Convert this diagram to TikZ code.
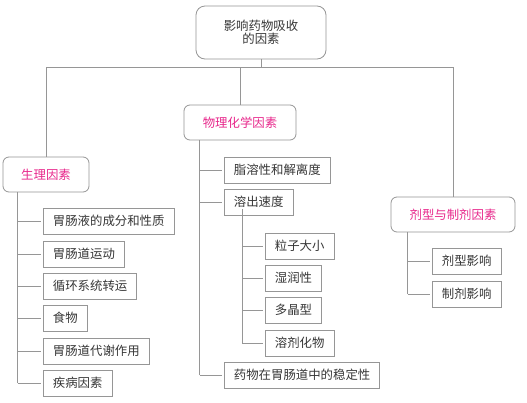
\documentclass[tikz,border=0pt]{standalone}
\usepackage{fontspec}
\setmainfont{Noto Sans CJK SC}
\definecolor{linegray}{RGB}{150,150,150}
\definecolor{txtgray}{RGB}{55,55,55}
\definecolor{pinkt}{RGB}{232,40,140}
\begin{document}
\begin{tikzpicture}[x=1pt,y=-1pt,
  every node/.style={font=\fontsize{12.4}{14}\selectfont, inner ysep=0pt},
  leaf/.style={draw=linegray, line width=0.8pt, text=txtgray, inner xsep=9.5pt, minimum height=26pt, anchor=west},
  cat/.style={draw=linegray, line width=0.8pt, rounded corners=6pt, text=pinkt, minimum height=35pt},
  rootbox/.style={draw=linegray, line width=0.8pt, rounded corners=9pt, text=txtgray, minimum width=130pt, minimum height=53pt, align=center},
  conn/.style={draw=linegray, line width=0.8pt}]
\useasboundingbox (0,0) rectangle (527,402);
\fill[white] (0,0) rectangle (527,402);
% root and categories
\node[rootbox] (root) at (261,32.5) {影响药物吸收\\[-1pt]的因素};
\node[cat, minimum width=112pt] (phys) at (240,122.5) {物理化学因素};
\node[cat, minimum width=86pt] (sheng) at (46,174.5) {生理因素};
\node[cat, minimum width=124pt] (jix) at (453,214.5) {剂型与制剂因素};
\coordinate (bus) at (0,67);
\draw[conn] (root.south) -- (root.south |- bus);
\draw[conn] (sheng.north) |- (jix.north |- bus) -- (jix.north);
\draw[conn] (phys.north) -- (phys.north |- bus);
% leaves
\node[leaf] (s1) at (43,221) {胃肠液的成分和性质};
\node[leaf] (s2) at (43,254) {胃肠道运动};
\node[leaf] (s3) at (43,286) {循环系统转运};
\node[leaf] (s4) at (43,318) {食物};
\node[leaf] (s5) at (43,351) {胃肠道代谢作用};
\node[leaf] (s6) at (43,383) {疾病因素};
\node[leaf] (p1) at (224,170) {脂溶性和解离度};
\node[leaf] (p2) at (224,202) {溶出速度};
\node[leaf] (p3) at (224,375) {药物在胃肠道中的稳定性};
\node[leaf] (g1) at (265,246) {粒子大小};
\node[leaf] (g2) at (265,278) {湿润性};
\node[leaf] (g3) at (265,310) {多晶型};
\node[leaf] (g4) at (265,343) {溶剂化物};
\node[leaf] (j1) at (432,261) {剂型影响};
\node[leaf] (j2) at (432,294) {制剂影响};
% sub-buses
\coordinate (sb) at ([xshift=15pt]sheng.south west);
\coordinate (pb) at ([xshift=16pt]phys.south west);
\coordinate (gb) at ([xshift=18pt,yshift=6pt]p2.south west);
\coordinate (jb) at ([xshift=17pt]jix.south west);
\draw[conn] (sb) -- (sb |- s6.west);
\draw[conn] (pb) -- (pb |- p3.west);
\draw[conn] (gb) -- (gb |- g4.west);
\draw[conn] (jb) -- (jb |- j2.west);
\foreach \n in {s1,s2,s3,s4,s5,s6}
  \draw[conn] (sb |- \n.west) -- ([xshift=-2pt]\n.west);
\foreach \n in {p1,p2,p3}
  \draw[conn] (pb |- \n.west) -- ([xshift=-2pt]\n.west);
\foreach \n in {g1,g2,g3,g4}
  \draw[conn] (gb |- \n.west) -- ([xshift=-2pt]\n.west);
\foreach \n in {j1,j2}
  \draw[conn] (jb |- \n.west) -- ([xshift=-2pt]\n.west);
\end{tikzpicture}
\end{document}
